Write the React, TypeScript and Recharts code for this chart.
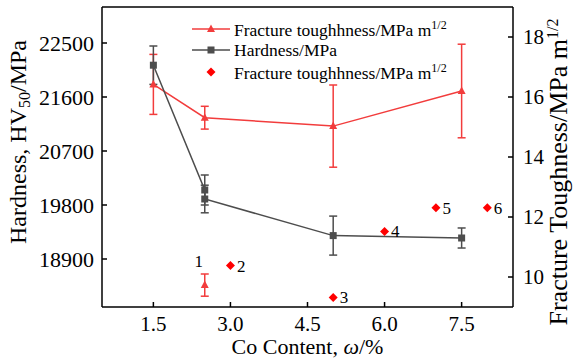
import { ComposedChart, Line, Scatter, XAxis, YAxis, ErrorBar, LabelList, ReferenceLine } from 'recharts';

const hardnessCo = [1.5, 2.5, 2.5, 5.0, 7.5];
const hardnessVal = [22130, 20050, 19900, 19290, 19250];
const hardnessErr = [320, 250, 230, 325, 167];

const toughCo = [1.5, 2.5, 5.0, 7.5];
const toughVal = [16.42, 15.31, 15.03, 16.2];
const toughErr = [1.0, 0.38, 1.37, 1.56];

const sampleOneCo = [2.5];
const sampleOneVal = [9.73];
const sampleOneErr = [0.37];
const sampleOneLabel = ['1'];

const sampleCo = [3.0, 5.0, 6.0, 7.0, 8.0];
const sampleVal = [10.38, 9.32, 11.52, 12.31, 12.31];
const sampleLabel = ['2', '3', '4', '5', '6'];

const xTicks = [1.5, 3.0, 4.5, 6.0, 7.5];
const hardTicks = [18900, 19800, 20700, 21600, 22500];
const toughTicks = [10, 12, 14, 16, 18];

const hardnessData = hardnessCo.map((x, i) => ({ x, y: hardnessVal[i], e: hardnessErr[i] }));
const toughData = toughCo.map((x, i) => ({ x, y: toughVal[i], e: toughErr[i] }));
const sampleOneData = sampleOneCo.map((x, i) => ({ x, y: sampleOneVal[i], e: sampleOneErr[i], label: sampleOneLabel[i] }));
const sampleData = sampleCo.map((x, i) => ({ x, y: sampleVal[i], label: sampleLabel[i] }));

const RED = '#f23c3c';
const GRAY = '#4d4d4d';
const FONT = 'Liberation Serif';
const tickStyle = { fontFamily: FONT, fontSize: 21, fill: '#000' };
const leftTickStyle = { ...tickStyle, fontSize: 22 };

const Triangle = (p: any) => {
  if (p.cx == null || p.cy == null) return null;
  return (
    <polygon
      key={`t-${p.index}`}
      points={`${p.cx},${p.cy - 4.5} ${p.cx + 4},${p.cy + 3} ${p.cx - 4},${p.cy + 3}`}
      fill={RED}
    />
  );
};

const Square = (p: any) => {
  if (p.cx == null || p.cy == null) return null;
  return <rect key={`s-${p.index}`} x={p.cx - 3.5} y={p.cy - 3.5} width={7} height={7} fill={GRAY} />;
};

const Diamond = (p: any) => (
  <polygon
    points={`${p.cx},${p.cy - 4.5} ${p.cx + 4.5},${p.cy} ${p.cx},${p.cy + 4.5} ${p.cx - 4.5},${p.cy}`}
    fill="#ff0000"
  />
);

const XTitle = (props: any) => {
  const { viewBox } = props;
  return (
    <text
      x={viewBox.x + viewBox.width / 2}
      y={viewBox.y + 47}
      textAnchor="middle"
      style={{ fontFamily: FONT, fontSize: 22 }}
      fill="#000"
    >
      Co Content, <tspan fontStyle="italic">ω</tspan>/%
    </text>
  );
};

const LeftTitle = (props: any) => {
  const { viewBox } = props;
  const cx = viewBox.x + 18;
  const cy = viewBox.y + viewBox.height / 2 - 15;
  return (
    <text
      x={cx}
      y={cy}
      transform={`rotate(-90 ${cx} ${cy})`}
      textAnchor="middle"
      dominantBaseline="central"
      style={{ fontFamily: FONT, fontSize: 24 }}
      fill="#000"
    >
      Hardness, HV<tspan style={{ fontSize: 16 }} dy={6}>50</tspan>
      <tspan dy={-6}>/MPa</tspan>
    </text>
  );
};

const RightTitle = (props: any) => {
  const { viewBox } = props;
  const cx = viewBox.x + 54;
  const cy = viewBox.y + viewBox.height / 2 + 15;
  return (
    <text
      x={cx}
      y={cy}
      transform={`rotate(-90 ${cx} ${cy})`}
      textAnchor="middle"
      style={{ fontFamily: FONT, fontSize: 26 }}
      fill="#000"
    >
      Fracture Toughness/MPa m<tspan style={{ fontSize: 16 }} dy={-9}>1/2</tspan>
    </text>
  );
};

const legendRow: React.CSSProperties = { display: 'flex', alignItems: 'center', height: 21.5 };
const legendText: React.CSSProperties = { marginLeft: 4, whiteSpace: 'nowrap' };

const ChartLegend = () => (
  <div
    style={{
      position: 'absolute',
      left: 192,
      top: 18,
      fontFamily: FONT,
      fontSize: 17.5,
      color: '#000',
      lineHeight: 1,
    }}
  >
    <div style={legendRow}>
      <svg width={38} height={12}>
        <line x1={0} y1={6} x2={38} y2={6} stroke={RED} strokeWidth={1.5} />
        <polygon points="19,1.5 23,9 15,9" fill={RED} />
      </svg>
      <span style={legendText}>
        Fracture toughhness/MPa m<sup style={{ fontSize: 12 }}>1/2</sup>
      </span>
    </div>
    <div style={legendRow}>
      <svg width={38} height={12}>
        <line x1={0} y1={6} x2={38} y2={6} stroke={GRAY} strokeWidth={1.5} />
        <rect x={15.5} y={2.5} width={7} height={7} fill={GRAY} />
      </svg>
      <span style={legendText}>Hardness/MPa</span>
    </div>
    <div style={legendRow}>
      <svg width={38} height={12}>
        <polygon points="19,1.5 23.5,6 19,10.5 14.5,6" fill="#ff0000" />
      </svg>
      <span style={legendText}>
        Fracture toughhness/MPa m<sup style={{ fontSize: 12 }}>1/2</sup>
      </span>
    </div>
  </div>
);

export default function App() {
  return (
    <div style={{ position: 'relative', width: 573, height: 360, background: '#fff', fontFamily: FONT }}>
      <style>{'body{margin:0;} .recharts-wrapper text{font-family:"Liberation Serif";}'}</style>
      <ComposedChart width={573} height={360} margin={{ top: 7, right: 0, bottom: 0, left: 0 }}>
        <XAxis
          type="number"
          dataKey="x"
          domain={[0.5, 8.5]}
          ticks={xTicks}
          allowDataOverflow
          tickFormatter={(v: number) => v.toFixed(1)}
          height={53}
          stroke="#000"
          strokeWidth={1.5}
          tickSize={-5}
          tickMargin={14}
          tick={tickStyle}
          label={<XTitle />}
        />
        <YAxis
          yAxisId="h"
          type="number"
          domain={[18100, 23100]}
          ticks={hardTicks}
          allowDataOverflow
          width={102}
          stroke="#000"
          strokeWidth={1.5}
          tickSize={-5}
          tickMargin={13}
          tick={leftTickStyle}
          label={<LeftTitle />}
        />
        <YAxis
          yAxisId="t"
          orientation="right"
          type="number"
          domain={[9, 19]}
          ticks={toughTicks}
          allowDataOverflow
          width={60}
          stroke="#000"
          strokeWidth={1.5}
          tickSize={-5}
          tickMargin={15}
          tick={tickStyle}
          label={<RightTitle />}
        />
        <ReferenceLine yAxisId="h" y={23100} stroke="#000" strokeWidth={1.5} />

        <Line
          yAxisId="t"
          data={toughData}
          dataKey="y"
          stroke={RED}
          strokeWidth={1.5}
          dot={Triangle}
          activeDot={false}
          isAnimationActive={false}
        >
          <ErrorBar dataKey="e" direction="y" width={4} stroke={RED} strokeWidth={1.5} />
        </Line>
        <Line
          yAxisId="h"
          data={hardnessData}
          dataKey="y"
          stroke={GRAY}
          strokeWidth={1.5}
          dot={Square}
          activeDot={false}
          isAnimationActive={false}
        >
          <ErrorBar dataKey="e" direction="y" width={4} stroke={GRAY} strokeWidth={1.5} />
        </Line>
        <Scatter yAxisId="t" data={sampleOneData} dataKey="y" shape={Triangle} isAnimationActive={false}>
          <ErrorBar dataKey="e" direction="y" width={4} stroke={RED} strokeWidth={1.5} />
          <LabelList
            dataKey="label"
            position="top"
            offset={14}
            dx={-6}
            style={{ fontFamily: FONT, fontSize: 17, fill: '#000' }}
          />
        </Scatter>
        <Scatter yAxisId="t" data={sampleData} dataKey="y" shape={Diamond} isAnimationActive={false}>
          <LabelList
            dataKey="label"
            position="right"
            offset={2}
            style={{ fontFamily: FONT, fontSize: 17, fill: '#000' }}
          />
        </Scatter>
      </ComposedChart>
      <ChartLegend />
    </div>
  );
}
